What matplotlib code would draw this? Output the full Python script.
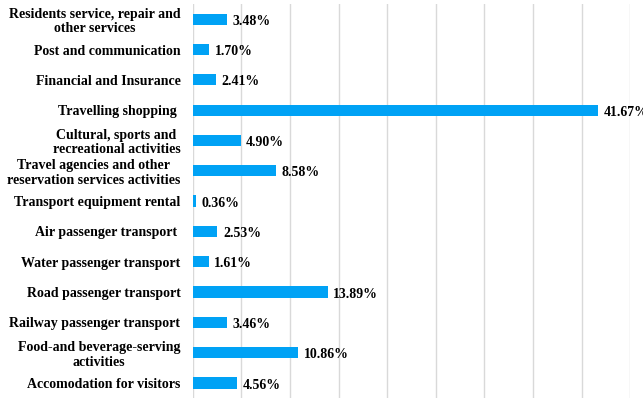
import matplotlib
matplotlib.use("Agg")
import matplotlib.pyplot as plt

# categories top -> bottom
categories = [
    "Residents service, repair and\nother services",
    "Post and communication",
    "Financial and Insurance",
    "Travelling shopping ",
    "Cultural, sports and\nrecreational activities",
    "Travel agencies and other\nreservation services activities",
    "Transport equipment rental",
    "Air passenger transport ",
    "Water passenger transport",
    "Road passenger transport",
    "Railway passenger transport",
    "Food-and beverage-serving\nactivities",
    "Accomodation for visitors",
]
shares = [3.48, 1.70, 2.41, 41.67, 4.90, 8.58, 0.36, 2.53, 1.61, 13.89, 3.46, 10.86, 4.56]

plt.rcParams['font.family'] = ['Liberation Serif', 'DejaVu Serif']

fig = plt.figure(figsize=(6.43, 4.05), dpi=100)
ax = fig.add_axes([0.300, 0.017, 0.680, 0.973])

pos = list(range(len(categories)))
ax.barh(pos, shares, height=0.37, color='#00a2f5', zorder=2)

for y, v in zip(pos, shares):
    ax.annotate(f"{v:.2f}%", (v, y), xytext=(4, -1.5), textcoords='offset points',
                va='center', ha='left', fontsize=10, fontweight='bold',
                annotation_clip=False, zorder=3)

ax.set_yticks(pos)
ax.set_yticklabels(categories, fontsize=10, fontweight='bold', multialignment='center',
                   linespacing=1.15)
ax.set_ylim(len(categories) - 0.5, -0.5)
ax.set_xlim(0, 45)
ax.set_xticks(range(0, 46, 5))
ax.tick_params(axis='x', length=0, labelbottom=False)
ax.tick_params(axis='y', length=0, pad=9)
ax.grid(axis='x', color='#d9d9d9', lw=1, zorder=0)
for s in ax.spines.values():
    s.set_visible(False)

fig.savefig("out.png", dpi=100)
